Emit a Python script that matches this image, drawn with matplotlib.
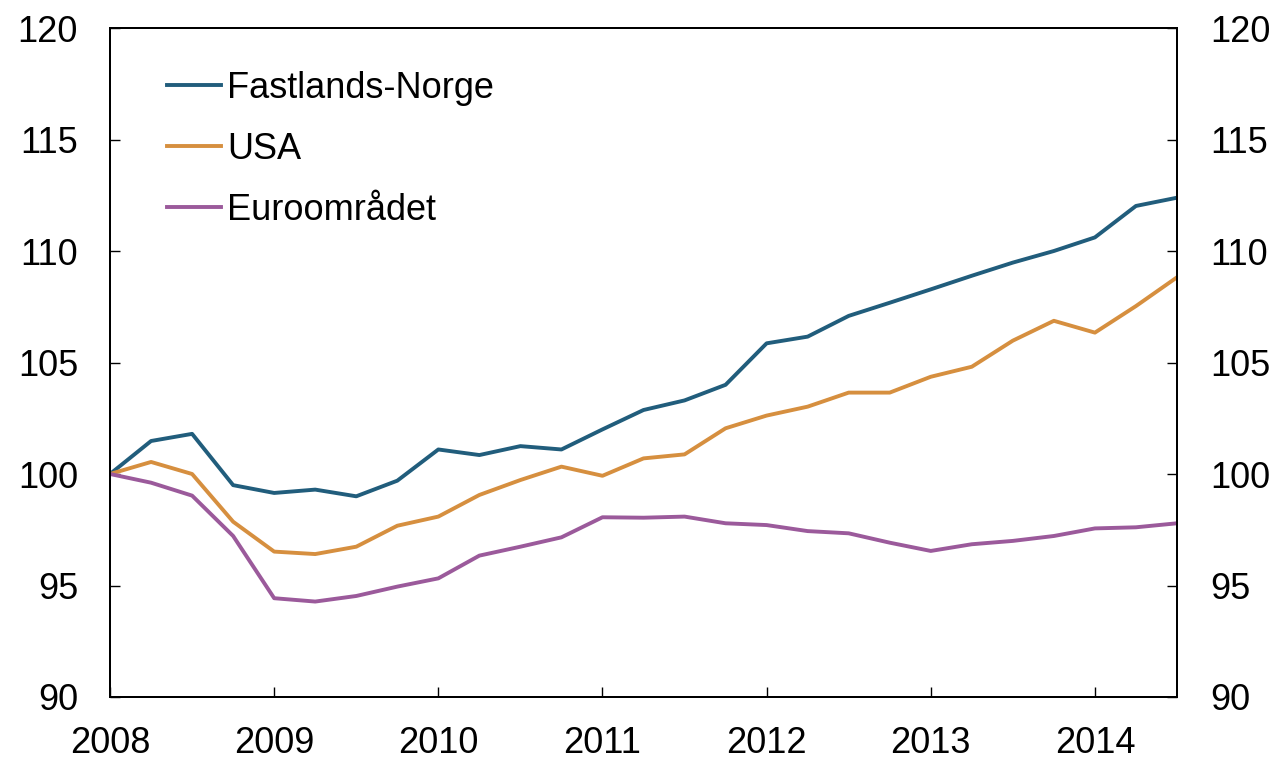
import numpy as np
import matplotlib
matplotlib.use('Agg')
import matplotlib.pyplot as plt

plt.rcParams['font.family'] = ['Liberation Sans', 'DejaVu Sans']

# kvartalsdata, 2008K1 = 100
kvartal = 2008 + 0.25 * np.arange(27)

fastlands_norge = [100.0, 101.48, 101.8, 99.5, 99.15, 99.3, 99.0, 99.7, 101.1, 100.85,
                   101.25, 101.1, 102.0, 102.87, 103.3, 104.0, 105.86, 106.16, 107.09,
                   107.68, 108.28, 108.89, 109.48, 110.0, 110.61, 112.02, 112.39]
usa = [100.0, 100.54, 100.0, 97.86, 96.52, 96.41, 96.74, 97.68, 98.09, 99.06,
       99.73, 100.33, 99.92, 100.7, 100.88, 102.05, 102.62, 103.02, 103.65,
       103.65, 104.36, 104.81, 105.98, 106.87, 106.34, 107.53, 108.82]
euroomradet = [100.0, 99.61, 99.03, 97.22, 94.43, 94.28, 94.53, 94.95, 95.32, 96.34,
               96.74, 97.16, 98.06, 98.04, 98.09, 97.79, 97.71, 97.44, 97.34,
               96.92, 96.55, 96.85, 97.0, 97.22, 97.56, 97.61, 97.79]

serier = ['Fastlands-Norge', 'USA', 'Euroområdet']
farger = ['#215d7c', '#d68f3f', '#9b5a9b']

yticks = [90, 95, 100, 105, 110, 115, 120]
xticks = [2008, 2009, 2010, 2011, 2012, 2013, 2014]

fig = plt.figure(figsize=(12.81, 7.61), dpi=100)
ax = fig.add_axes([0.0859, 0.0841, 0.8329, 0.8791])

for data, navn, farge in zip([fastlands_norge, usa, euroomradet], serier, farger):
    ax.plot(kvartal, data, color=farge, linewidth=2.8, label=navn)

ax.set_xlim(2008, 2014.5)
ax.set_ylim(90, 120)
ax.set_xticks(xticks)
ax.set_xticklabels([str(x) for x in xticks])
ax.set_yticks(yticks)

ax2 = ax.twinx()
ax2.set_ylim(90, 120)
ax2.set_yticks(yticks)

for a in (ax, ax2):
    for s in a.spines.values():
        s.set_linewidth(1.4)
ax.tick_params(axis='x', direction='in', length=7, width=1, pad=21, labelsize=26)
ax.tick_params(axis='y', direction='in', length=7, width=1, pad=23, labelsize=26)
ax2.tick_params(axis='y', direction='in', length=7, width=1, pad=24, labelsize=26)

leg = ax.legend(loc='upper left', bbox_to_anchor=(0.053, 0.936), frameon=False,
                fontsize=26, handlelength=1.52, handletextpad=0.15, labelspacing=0.72,
                borderaxespad=0, borderpad=0)

plt.savefig('out.png', dpi=100)
